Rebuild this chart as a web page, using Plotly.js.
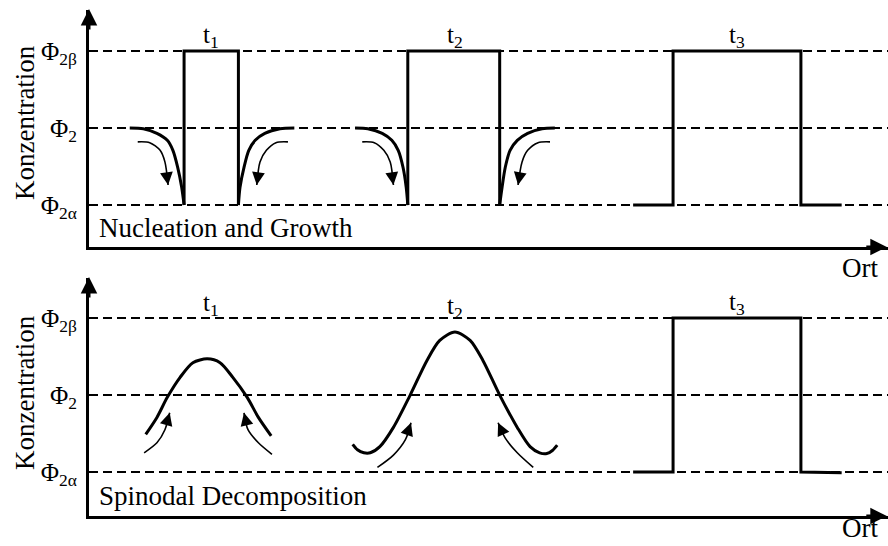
<!DOCTYPE html>
<html>
<head>
<meta charset="utf-8">
<script src="https://cdn.plot.ly/plotly-3.0.1.min.js"></script>
</head>
<body style="margin:0;padding:0;background:#fff;">
<div id="chart"></div>
<script>
// ---- Data (Ort in arbitrary units 0..10; Konzentration: 0 = Φ2α, 1 = Φ2, 2 = Φ2β) ----
const phiTickVals = [0, 1, 2];
const phiTickText = ['Φ<sub>2α</sub>', 'Φ<sub>2</sub>', 'Φ<sub>2β</sub>'];
const timeLabels = ['t<sub>1</sub>', 't<sub>2</sub>', 't<sub>3</sub>'];
const timeLabelX = [1.53, 4.58, 8.11];
const timeLabelYTop = [2.19, 2.19, 2.19];
const timeLabelYBottom = [2.18, 2.14, 2.19];

// Nucleation and Growth (top panel)
const ngT1LeftX = [0.51, 0.68, 0.85, 0.98, 1.05, 1.11, 1.16, 1.19];
const ngT1LeftY = [1.00, 0.99, 0.93, 0.84, 0.71, 0.49, 0.23, 0.00];
const ngT1RectX = [1.19, 1.19, 1.87, 1.87];
const ngT1RectY = [0, 2, 2, 0];
const ngT1RightX = [1.87, 1.89, 1.94, 2.00, 2.08, 2.20, 2.39, 2.57];
const ngT1RightY = [0.00, 0.23, 0.49, 0.71, 0.84, 0.93, 0.99, 1.00];

const ngT2LeftX = [3.33, 3.49, 3.67, 3.79, 3.87, 3.93, 3.97, 3.99];
const ngT2LeftY = [1.00, 0.99, 0.93, 0.84, 0.71, 0.49, 0.23, 0.00];
const ngT2RectX = [3.99, 3.99, 5.14, 5.14];
const ngT2RectY = [0, 2, 2, 0];
const ngT2RightX = [5.14, 5.17, 5.21, 5.27, 5.36, 5.49, 5.67, 5.83];
const ngT2RightY = [0.00, 0.23, 0.49, 0.71, 0.84, 0.93, 0.99, 1.00];

const ngT3X = [6.81, 7.31, 7.31, 8.91, 8.91, 9.42];
const ngT3Y = [0, 0, 2, 2, 0, 0];

const ngArrowT1LX = [0.61, 0.76, 0.89, 0.95, 0.99];
const ngArrowT1RX = [2.49, 2.34, 2.22, 2.14, 2.10];
const ngArrowT2LX = [3.42, 3.57, 3.69, 3.77, 3.81];
const ngArrowT2RX = [5.77, 5.62, 5.49, 5.42, 5.37];
const ngArrowY = [0.82, 0.81, 0.71, 0.56, 0.26];

// Spinodal Decomposition (bottom panel)
const sdT1X = [0.71, 0.85, 0.98, 1.14, 1.30, 1.48, 1.64, 1.80, 1.98, 2.12, 2.28];
const sdT1Y = [0.49, 0.71, 0.97, 1.23, 1.42, 1.47, 1.42, 1.23, 0.97, 0.71, 0.47];
const sdT2X = [3.30, 3.36, 3.44, 3.52, 3.64, 3.81, 4.02, 4.23, 4.39, 4.58, 4.77, 4.93, 5.14, 5.36, 5.52, 5.64, 5.73, 5.80, 5.86];
const sdT2Y = [0.36, 0.29, 0.25, 0.25, 0.33, 0.58, 1.00, 1.45, 1.71, 1.82, 1.71, 1.45, 1.00, 0.58, 0.33, 0.25, 0.24, 0.28, 0.35];
const sdT3X = [6.81, 7.31, 7.31, 8.91, 8.91, 9.42];
const sdT3Y = [0, 0, 2, 2, 0, -0.01];

const sdArrowT1LX = [0.69, 0.85, 0.95, 1.01];
const sdArrowT1LY = [0.25, 0.38, 0.55, 0.77];
const sdArrowT1RX = [2.29, 2.12, 1.99, 1.94];
const sdArrowT1RY = [0.23, 0.38, 0.55, 0.77];
const sdArrowT2LX = [3.61, 3.81, 3.96, 4.03];
const sdArrowT2LY = [0.06, 0.22, 0.42, 0.64];
const sdArrowT2RX = [5.56, 5.36, 5.21, 5.12];
const sdArrowT2RY = [0.06, 0.25, 0.44, 0.64];

// ---- Build ----
const SERIF = 'Liberation Serif';
const traces = [];
function addLine(x, y, xa, ya, w, spline) {
  traces.push({
    x: x, y: y, xaxis: xa, yaxis: ya, type: 'scatter', mode: 'lines',
    line: {color: 'black', width: w, shape: spline ? 'spline' : 'linear', smoothing: 0.8},
    hoverinfo: 'skip'
  });
}
addLine(ngT1LeftX, ngT1LeftY, 'x', 'y', 3, true);
addLine(ngT1RectX, ngT1RectY, 'x', 'y', 3, false);
addLine(ngT1RightX, ngT1RightY, 'x', 'y', 3, true);
addLine(ngT2LeftX, ngT2LeftY, 'x', 'y', 3, true);
addLine(ngT2RectX, ngT2RectY, 'x', 'y', 3, false);
addLine(ngT2RightX, ngT2RightY, 'x', 'y', 3, true);
addLine(ngT3X, ngT3Y, 'x', 'y', 3, false);
const ngArrows = [[ngArrowT1LX, ngArrowY, -1.3, -9.9], [ngArrowT1RX, ngArrowY, 1.3, -9.9],
                  [ngArrowT2LX, ngArrowY, -1.3, -9.9], [ngArrowT2RX, ngArrowY, 1.7, -9.85]];
ngArrows.forEach(a => addLine(a[0], a[1], 'x', 'y', 1.6, true));
addLine(sdT1X, sdT1Y, 'x2', 'y2', 3, true);
addLine(sdT2X, sdT2Y, 'x2', 'y2', 3, true);
addLine(sdT3X, sdT3Y, 'x2', 'y2', 3, false);
const sdArrows = [[sdArrowT1LX, sdArrowT1LY, -2.8, 9.6], [sdArrowT1RX, sdArrowT1RY, 2.3, 9.7],
                  [sdArrowT2LX, sdArrowT2LY, -3.3, 9.4], [sdArrowT2RX, sdArrowT2RY, 4.2, 9.0]];
sdArrows.forEach(a => addLine(a[0], a[1], 'x2', 'y2', 1.6, true));

const annotations = [];
function head(a, xr, yr) {
  const n = a[0].length - 1;
  annotations.push({x: a[0][n], y: a[1][n], xref: xr, yref: yr, text: '', showarrow: true,
    ax: a[2], ay: a[3], arrowhead: 2, arrowsize: 1.6, arrowwidth: 1.6, arrowcolor: 'black', standoff: 0});
}
ngArrows.forEach(a => head(a, 'x', 'y'));
sdArrows.forEach(a => head(a, 'x2', 'y2'));

[[0, 0.9835, 0, 22], [0.9985, 0.5476, -22, 0], [0, 0.4927, 0, 22], [0.9985, 0.0549, -22, 0]].forEach(p => {
  annotations.push({x: p[0], y: p[1], xref: 'paper', yref: 'paper', text: '', showarrow: true,
    ax: p[2], ay: p[3], arrowhead: 2, arrowsize: 1.1, arrowwidth: 3, arrowcolor: 'black', standoff: 0});
});

function txt(o, size) {
  o.showarrow = false;
  o.font = {family: SERIF, size: size, color: 'black'};
  annotations.push(o);
}
timeLabels.forEach((t, i) => {
  txt({x: timeLabelX[i], y: timeLabelYTop[i], xref: 'x', yref: 'y', text: t, xanchor: 'center', yanchor: 'middle'}, 25);
  txt({x: timeLabelX[i], y: timeLabelYBottom[i], xref: 'x2', yref: 'y2', text: t, xanchor: 'center', yanchor: 'middle'}, 25);
});
txt({x: 0.01, y: -0.30, xref: 'paper', yref: 'y', text: 'Nucleation and Growth', xanchor: 'left', yanchor: 'middle'}, 27);
txt({x: 0.01, y: -0.31, xref: 'paper', yref: 'y2', text: 'Spinodal Decomposition', xanchor: 'left', yanchor: 'middle'}, 27);
txt({x: 0.965, y: 0.509, xref: 'paper', yref: 'paper', text: 'Ort', xanchor: 'center', yanchor: 'middle'}, 27);
txt({x: 0.965, y: 0.002, xref: 'paper', yref: 'paper', text: 'Ort', xanchor: 'center', yanchor: 'bottom'}, 27);
txt({x: -0.080, y: (546 - 123) / 546, xref: 'paper', yref: 'paper', text: 'Konzentration', textangle: -90, xanchor: 'center', yanchor: 'middle'}, 27);
txt({x: -0.080, y: (546 - 393) / 546, xref: 'paper', yref: 'paper', text: 'Konzentration', textangle: -90, xanchor: 'center', yanchor: 'middle'}, 27);

const xBase = {range: [0, 10], showline: true, linewidth: 3, linecolor: 'black', showgrid: false,
  zeroline: false, showticklabels: false, ticks: ''};
const yBase = {showline: true, linewidth: 3, linecolor: 'black', showgrid: true, gridcolor: 'black',
  gridwidth: 1.8, griddash: '9px,5px', zeroline: false, tickvals: phiTickVals, ticktext: phiTickText,
  ticks: '', ticklabelstandoff: 4, tickfont: {family: SERIF, size: 25, color: 'black'}};

const layout = {
  width: 888, height: 546,
  margin: {l: 89, r: 0, t: 0, b: 0},
  paper_bgcolor: 'white', plot_bgcolor: 'white',
  showlegend: false,
  xaxis: Object.assign({}, xBase, {domain: [0, 1], anchor: 'y'}),
  yaxis: Object.assign({}, yBase, {domain: [0.5476, 0.9817], range: [-0.545, 2.532], anchor: 'x'}),
  xaxis2: Object.assign({}, xBase, {domain: [0, 1], anchor: 'y2'}),
  yaxis2: Object.assign({}, yBase, {domain: [0.0549, 0.4908], range: [-0.571, 2.52], anchor: 'x2'}),
  annotations: annotations
};

Plotly.newPlot('chart', traces, layout, {displayModeBar: false});
</script>
</body>
</html>
